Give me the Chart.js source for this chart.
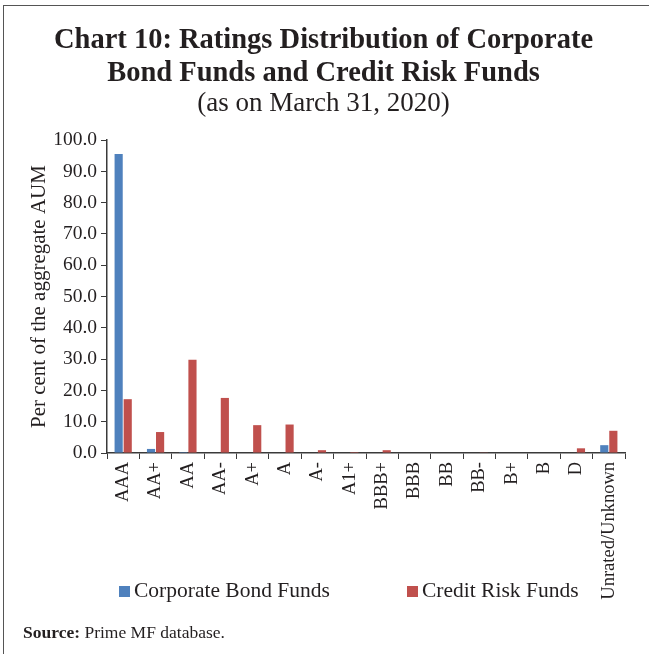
<!DOCTYPE html>
<html>
<head>
<meta charset="utf-8">
<script src="https://cdn.jsdelivr.net/npm/chart.js@4/dist/chart.umd.min.js"></script>
<style>
  html, body { margin: 0; padding: 0; background: #fff; }
  #wrap { position: relative; width: 649px; height: 654px; overflow: hidden; font-family: "Liberation Serif", serif; color: #231f20; }
  #frame { position: absolute; left: 3px; top: 5px; width: 700px; height: 700px; border-top: 1.5px solid #555; border-left: 1.5px solid #555; }
  #ratingsChart { position: absolute; left: 0; top: 0; }
  .legItem { position: absolute; top: 578px; font-size: 21.5px; white-space: nowrap; }
  .legItem span.box { display: inline-block; width: 11px; height: 11px; margin-right: 4px; }
  #source { position: absolute; left: 23px; top: 622px; font-size: 17.5px; }
</style>
</head>
<body>
<div id="wrap">
  <div id="frame"></div>
  <canvas id="ratingsChart" width="649" height="654"></canvas>
  <div id="legend"></div>
  <div id="source"><b>Source:</b> Prime MF database.</div>
</div>
<script>
// ratings buckets on the x axis
var ratingLabels = ["AAA","AA+","AA","AA-","A+","A","A-","A1+","BBB+","BBB","BB","BB-","B+","B","D","Unrated/Unknown"];
// per cent of aggregate AUM
var corporateBond = [95.6, 1.3, 0.3, 0, 0, 0, 0, 0, 0, 0, 0, 0, 0, 0, 0, 2.5];
var creditRisk    = [17.2, 6.7, 29.8, 17.6, 8.9, 9.1, 0.9, 0.3, 0.9, 0, 0, 0.1, 0, 0, 1.5, 7.1];
var seriesNames = ["Corporate Bond Funds","Credit Risk Funds"];
var seriesColors = ["#4f81bd","#c0504d"];
var yTicks = [0,10,20,30,40,50,60,70,80,90,100];

var axisColor = "#3a3a3a";
var textColor = "#231f20";

var ratingsConfig = {
    type: 'bar',
    data: {
        labels: ratingLabels,
        datasets: [{
            label: seriesNames[0],
            data: corporateBond,
            backgroundColor: seriesColors[0],
            categoryPercentage: 0.56,
            barPercentage: 0.9
        },{
            label: seriesNames[1],
            data: creditRisk,
            backgroundColor: seriesColors[1],
            categoryPercentage: 0.56,
            barPercentage: 0.9
        }]
    },
    options: {
        responsive: false,
        animation: false,
        devicePixelRatio: 1,
        layout: {
            padding: {top: 25, left: 22, right: 24, bottom: 51}
        },
        plugins: {
            legend: { display: false },
            tooltip: { enabled: false },
            title: {
                display: true,
                text: ["Chart 10: Ratings Distribution of Corporate","Bond Funds and Credit Risk Funds"],
                color: textColor,
                font: {family: "Liberation Serif", size: 28.5, weight: 'bold', lineHeight: 1.13},
                padding: {top: 0, bottom: 0}
            },
            subtitle: {
                display: true,
                text: "(as on March 31, 2020)",
                color: textColor,
                font: {family: "Liberation Serif", size: 27, lineHeight: 1.1},
                padding: {top: 0, bottom: 21}
            }
        },
        scales: {
            x: {
                offset: true,
                grid: {
                    offset: true,
                    drawOnChartArea: false,
                    drawTicks: true,
                    tickLength: 6,
                    tickColor: axisColor
                },
                border: {color: axisColor, width: 1.5},
                ticks: {
                    color: textColor,
                    font: {family: "Liberation Serif", size: 18.5},
                    minRotation: 90,
                    maxRotation: 90,
                    autoSkip: false,
                    padding: 3
                },
                afterFit: function(scale){ scale.height = 150; }
            },
            y: {
                min: 0,
                max: 100,
                afterBuildTicks: function(scale){
                    scale.ticks = yTicks.map(function(v){ return {value: v}; });
                },
                grid: {
                    drawOnChartArea: false,
                    drawTicks: true,
                    tickLength: 6,
                    tickColor: axisColor
                },
                border: {color: axisColor, width: 1.5},
                ticks: {
                    color: textColor,
                    font: {family: "Liberation Serif", size: 19.5},
                    padding: 4,
                    callback: function(v){ return Number(v).toFixed(1); }
                },
                title: {
                    display: true,
                    text: "Per cent of the aggregate AUM",
                    color: textColor,
                    font: {family: "Liberation Serif", size: 21},
                    padding: {top: 5, bottom: 0}
                },
                afterFit: function(scale){ scale.width = 107 - 22; }
            }
        }
    }
};

var ratingsCtx = document.getElementById("ratingsChart");
var ratingsChart = new Chart(ratingsCtx, ratingsConfig);

// legend in html, built from the series arrays
var legendLeft = [119, 407];
var legendDiv = document.getElementById("legend");
seriesNames.forEach(function(name, i){
    var item = document.createElement("div");
    item.className = "legItem";
    item.style.left = legendLeft[i] + "px";
    item.innerHTML = '<span class="box" style="background:' + seriesColors[i] + '"></span>' + name;
    legendDiv.appendChild(item);
});
</script>
</body>
</html>
